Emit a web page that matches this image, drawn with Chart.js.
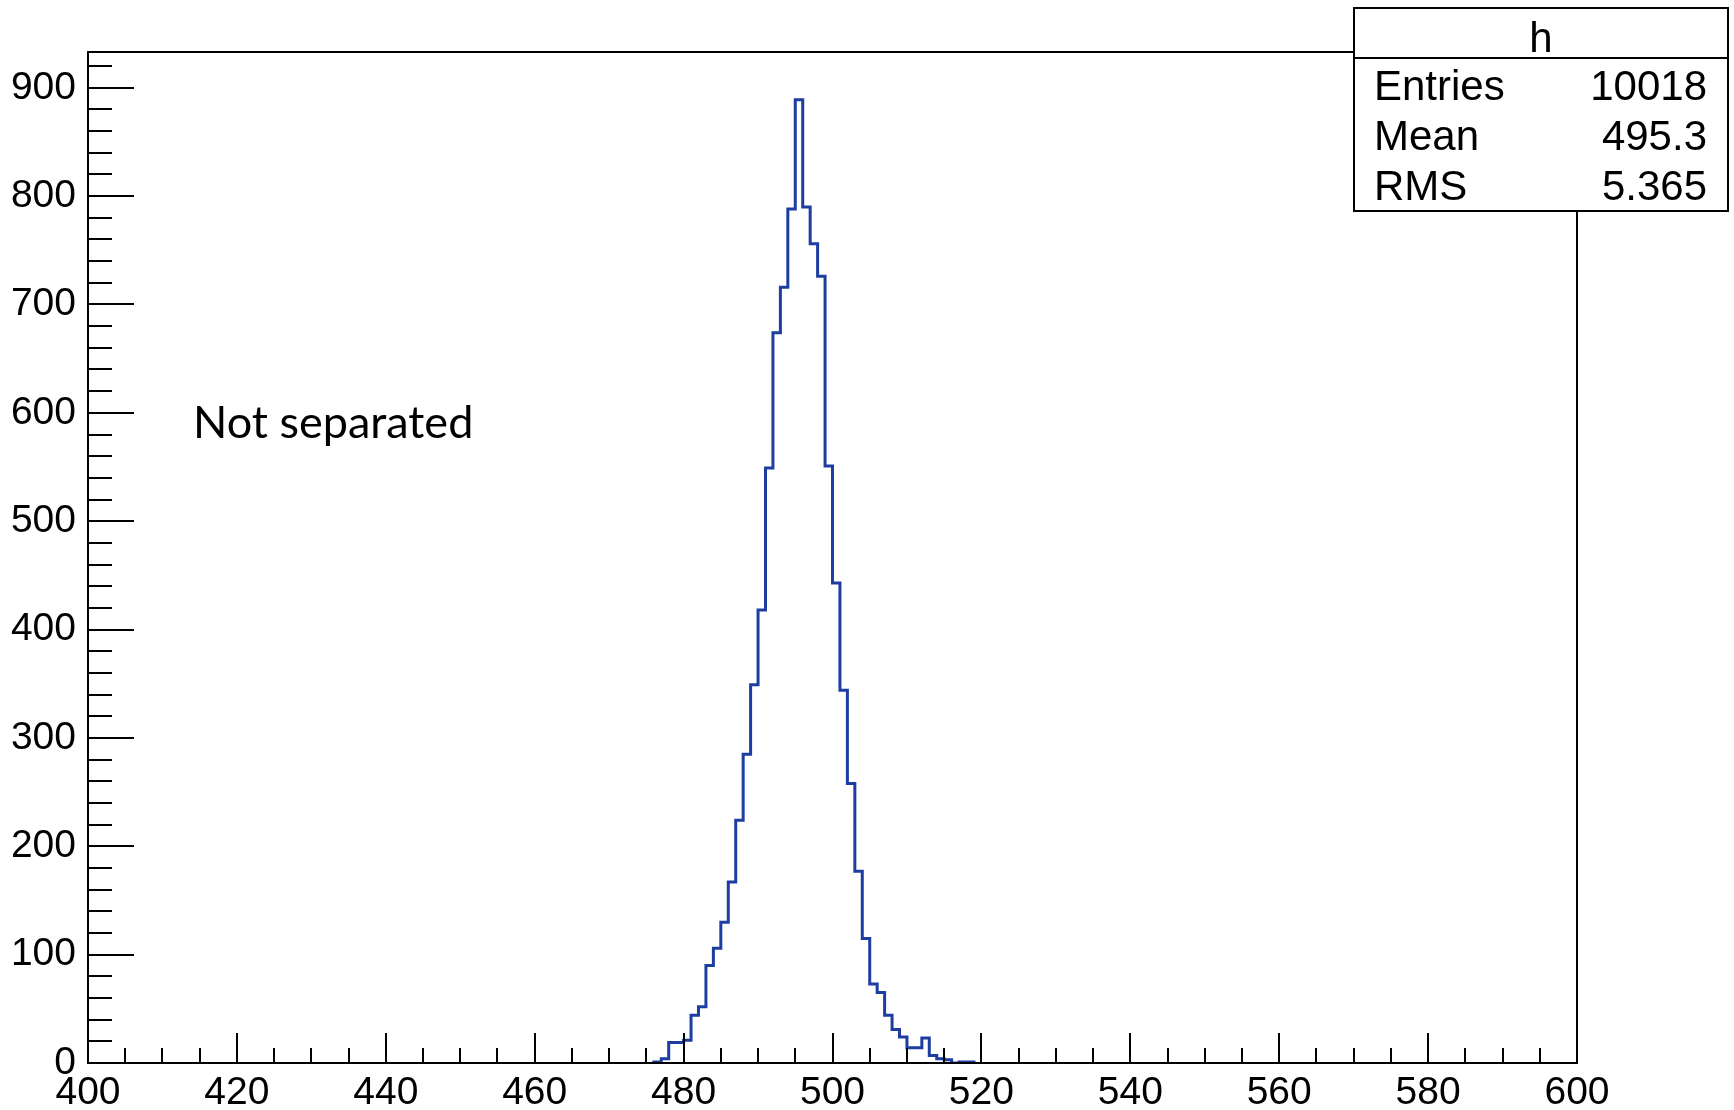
<!DOCTYPE html>
<html>
<head>
<meta charset="utf-8">
<script src="https://cdn.jsdelivr.net/npm/chart.js@4.4.1/dist/chart.umd.min.js"></script>
<style>
  html, body { margin: 0; padding: 0; background: #ffffff; }
  #wrap { width: 1734px; height: 1110px; position: relative; }
</style>
</head>
<body>
<div id="wrap"><canvas id="c" width="1734" height="1110"></canvas></div>
<script>
// ---- data (histogram "h", 1-unit bins, lower edges) ----
const binLowEdges = [476,477,478,479,480,481,482,483,484,485,486,487,488,489,490,491,492,493,494,495,496,497,498,499,500,501,502,503,504,505,506,507,508,509,510,511,512,513,514,515,516,517,518];
const binCounts   = [1,4,19,19,21,44,52,90,106,130,167,224,285,349,418,549,674,716,788,889,790,756,726,551,443,344,258,177,115,73,65,44,31,24,14,14,23,7,4,3,0,1,1];
const binWidth = 1;
const xRange = [400, 600];
const yRange = [0, 933];
const xMajorStep = 20, xMinorStep = 5;
const yMajorStep = 100, yMinorStep = 20;
const statsTitle = 'h';
const statsLabels = ['Entries', 'Mean', 'RMS'];
const statsValues = ['10018', '495.3', '5.365'];
const noteText = 'Not separated';

// outline points for a step histogram
const outline = [{ x: binLowEdges[0], y: 0 }]
  .concat(binLowEdges.map((e, i) => ({ x: e, y: binCounts[i] })))
  .concat([{ x: binLowEdges[binLowEdges.length - 1] + binWidth, y: 0 }]);

const AXIS_FONT = '"Liberation Sans", Arial, Helvetica, sans-serif';

const rootFrame = {
  id: 'rootFrame',
  afterDraw(chart) {
    const { ctx, chartArea: a, scales: { x, y } } = chart;
    ctx.save();
    ctx.strokeStyle = '#000';
    ctx.lineWidth = 2;
    ctx.lineCap = 'butt';
    ctx.strokeRect(a.left, a.top, a.right - a.left, a.bottom - a.top);
    ctx.beginPath();
    x.ticks.forEach(t => {
      const v = t.value;
      if (Math.abs(v / xMinorStep - Math.round(v / xMinorStep)) > 1e-6) return;
      const major = Math.abs(v / xMajorStep - Math.round(v / xMajorStep)) < 1e-6;
      const px = Math.round(x.getPixelForValue(v));
      ctx.moveTo(px, a.bottom);
      ctx.lineTo(px, a.bottom - (major ? 30 : 15));
    });
    y.ticks.forEach(t => {
      const v = t.value;
      if (Math.abs(v / yMinorStep - Math.round(v / yMinorStep)) > 1e-6) return;
      const major = Math.abs(v / yMajorStep - Math.round(v / yMajorStep)) < 1e-6;
      const py = Math.round(y.getPixelForValue(v));
      ctx.moveTo(a.left, py);
      ctx.lineTo(a.left + (major ? 46 : 24), py);
    });
    ctx.stroke();

    // note text
    ctx.fillStyle = '#000';
    ctx.font = '45px Lato, "Open Sans", sans-serif';
    ctx.textAlign = 'left';
    ctx.textBaseline = 'alphabetic';
    ctx.fillText(noteText, 193, 438);

    // stats box
    const bx = 1354, by = 8, bw = 374, bh = 203, hh = 50;
    ctx.fillStyle = '#fff';
    ctx.fillRect(bx, by, bw, bh);
    ctx.strokeStyle = '#000';
    ctx.lineWidth = 2;
    ctx.strokeRect(bx, by, bw, bh);
    ctx.beginPath();
    ctx.moveTo(bx, by + hh);
    ctx.lineTo(bx + bw, by + hh);
    ctx.stroke();
    ctx.fillStyle = '#000';
    ctx.font = '42px ' + AXIS_FONT;
    ctx.textBaseline = 'alphabetic';
    ctx.textAlign = 'center';
    ctx.fillText(statsTitle, bx + bw / 2, by + 44);
    statsLabels.forEach((lab, i) => {
      const yy = by + 92 + i * 50;
      ctx.textAlign = 'left';
      ctx.fillText(lab, bx + 20, yy);
      ctx.textAlign = 'right';
      ctx.fillText(statsValues[i], bx + bw - 21, yy);
    });
    ctx.restore();
  }
};

new Chart(document.getElementById('c'), {
  type: 'line',
  data: {
    datasets: [{
      data: outline,
      stepped: 'before',
      borderColor: '#1d3ea0',
      borderWidth: 3,
      borderJoinStyle: 'miter',
      pointRadius: 0,
      fill: false,
      tension: 0,
      clip: { left: 0, top: 0, right: 0, bottom: -1 }
    }]
  },
  options: {
    responsive: false,
    animation: false,
    events: [],
    layout: { padding: { top: 52, right: 157, left: 0, bottom: 0 } },
    plugins: { legend: { display: false }, tooltip: { enabled: false }, title: { display: false } },
    scales: {
      x: {
        type: 'linear',
        min: xRange[0], max: xRange[1],
        grid: { display: false, drawTicks: false },
        border: { display: false },
        ticks: {
          stepSize: xMinorStep,
          autoSkip: false, maxRotation: 0, includeBounds: false,
          padding: 7,
          color: '#000',
          font: { family: AXIS_FONT, size: 39 },
          callback: v => (Math.abs(v % xMajorStep) < 1e-6 ? String(Math.round(v)) : '')
        },
        afterFit: s => { s.height = 47; }
      },
      y: {
        type: 'linear',
        min: yRange[0], max: yRange[1],
        grid: { display: false, drawTicks: false },
        border: { display: false },
        ticks: {
          stepSize: yMinorStep,
          autoSkip: false, includeBounds: false,
          padding: 12,
          color: '#000',
          font: { family: AXIS_FONT, size: 39 },
          callback: v => (Math.abs(v % yMajorStep) < 1e-6 ? String(Math.round(v)) : '')
        },
        afterFit: s => { s.width = 88; }
      }
    }
  },
  plugins: [rootFrame]
});
</script>
</body>
</html>
